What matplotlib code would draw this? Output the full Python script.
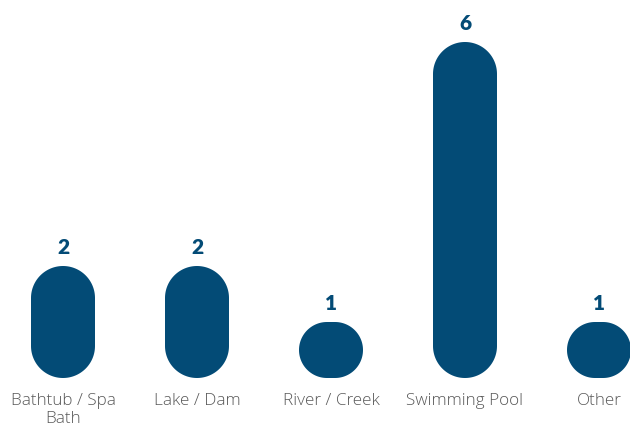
import numpy as np
import matplotlib
matplotlib.use("Agg")
import matplotlib.pyplot as plt

categories = ["Bathtub / Spa\nBath", "Lake / Dam", "River / Creek", "Swimming Pool", "Other"]
counts = [2, 2, 1, 6, 1]

BAR_COLOR = "#034b76"
LABEL_COLOR = "#595959"

W, H, DPI = 630, 427, 100
fig = plt.figure(figsize=(W / DPI, H / DPI), dpi=DPI)
ax = fig.add_axes([0, 0, 1, 1])

# pixel scale: 134 px between categories, 56 px per count, baseline 48 px from bottom
px_x, px_y = 134.0, 56.0
x0 = -63.0 / px_x
y0 = -48.0 / px_y
ax.set_xlim(x0, x0 + W / px_x)
ax.set_ylim(y0, y0 + H / px_y)
ax.axis("off")

bar_px = 64.0  # bar width in pixels


def pill(ax, xc, h, n=40):
    """Rounded bar whose corners look circular on screen."""
    w_px = bar_px
    h_px = h * px_y
    r_px = min(w_px / 2, h_px / 2)
    rx, ry = r_px / px_x, r_px / px_y
    hw = w_px / 2 / px_x
    left, right, bottom, top = xc - hw, xc + hw, 0.0, h
    pts = []
    corners = [
        (right - rx, top - ry, 0, 90),
        (left + rx, top - ry, 90, 180),
        (left + rx, bottom + ry, 180, 270),
        (right - rx, bottom + ry, 270, 360),
    ]
    for cx, cy, a0, a1 in corners:
        t = np.radians(np.linspace(a0, a1, n))
        pts.append(np.column_stack([cx + rx * np.cos(t), cy + ry * np.sin(t)]))
    pts = np.vstack(pts)
    ax.fill(pts[:, 0], pts[:, 1], color=BAR_COLOR, lw=0)


for i, (cat, v) in enumerate(zip(categories, counts)):
    pill(ax, i, v)
    ax.annotate(str(v), xy=(i, v), xytext=(0, 9.5), textcoords="offset points",
                ha="center", va="baseline", fontsize=15, fontweight="heavy",
                color=BAR_COLOR, family="Lato")
    ax.annotate(cat, xy=(i, 0), xytext=(0, -10), textcoords="offset points",
                ha="center", va="top", fontsize=12.3, fontweight="light",
                color=LABEL_COLOR, family="Open Sans", linespacing=1.2)

fig.savefig("out.png", dpi=DPI, facecolor="white")
